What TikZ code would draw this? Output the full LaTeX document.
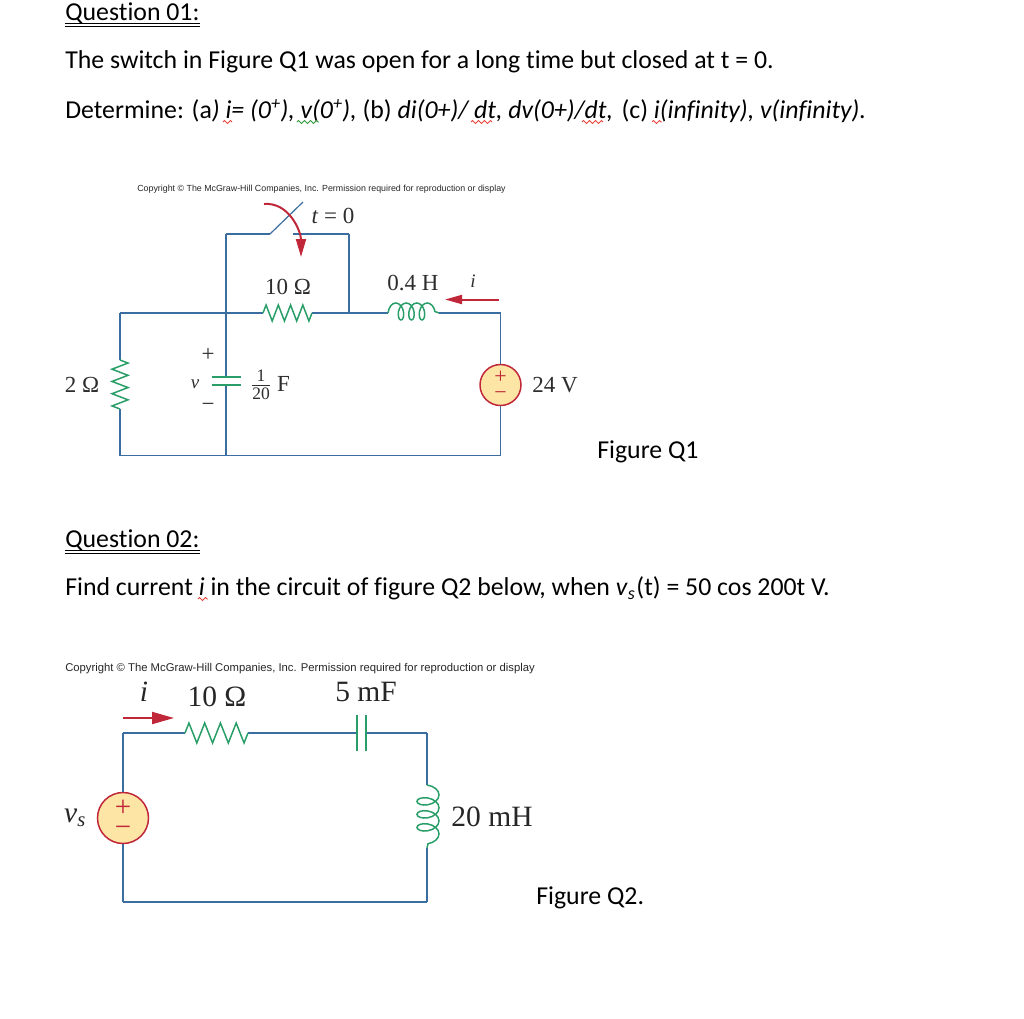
\documentclass[tikz,border=0pt]{standalone}
\usepackage{fontspec}
\setmainfont{Liberation Serif}
\newfontfamily\docfont[Ligatures=NoCommon]{Carlito}
\newfontfamily\copyfont{Liberation Sans}
\usetikzlibrary{arrows.meta,decorations.pathmorphing}
\definecolor{wireblue}{RGB}{58,110,160}
\definecolor{partgreen}{RGB}{42,158,104}
\definecolor{arrowred}{RGB}{192,40,58}
\definecolor{srcfill}{RGB}{253,229,165}
\definecolor{labelgray}{RGB}{45,45,45}
\definecolor{spellred}{RGB}{232,70,60}
\definecolor{spellgreen}{RGB}{50,155,60}
\tikzset{>=Stealth}
\newcommand{\docsize}{\fontsize{25.8}{28}\selectfont}

\begin{document}
\begin{tikzpicture}[x=1pt,y=-1pt,semithick]
    \tikzstyle{doc}=[inner sep=0pt,anchor=base west,text=black,font=\docfont\docsize]
    \tikzstyle{rule}=[black,line width=0.9pt]
    \tikzstyle{wire}=[draw=wireblue,line width=1.6pt]
    \tikzstyle{part}=[draw=partgreen,line width=1.5pt]
    \tikzstyle{curr}=[draw=arrowred,line width=2pt]
    \tikzstyle{src}=[circle,draw=arrowred,fill=srcfill,line width=1.5pt,inner sep=0pt,text=arrowred,align=center]
    \tikzstyle{lab}=[inner sep=0pt,text=labelgray,font=\fontsize{23}{25}\selectfont]
    \tikzstyle{biglab}=[inner sep=0pt,text=black!85,font=\fontsize{29.5}{31}\selectfont]
    \tikzstyle{copy}=[inner sep=0pt,anchor=base west,text=black!85,font=\copyfont]
    \tikzstyle{spell}=[line width=0.9pt,decorate,decoration={zigzag,amplitude=1.5pt,segment length=6pt}]

    \useasboundingbox (0,0) rectangle (1024,1018);

    \node[doc] (qa)  at (65,20.8)   {Question 01:};
    \node[doc] (la1) at (65,68.6)   {The switch in Figure Q1 was open for a long time but closed at t = 0.};
    \node[doc] (la2) at (65,118.5)  {Determine: (a\textit{) i= (0\textsuperscript{+}), v(0\textsuperscript{+}),} (b) \textit{di(0+)/ dt, dv(0+)/dt,}\hspace{8.5pt}(c) \textit{i(infinity), v(infinity).}};
    \node[doc] (fa)  at (597,458) {Figure Q1};
    \node[doc] (qb)  at (65,547.8)  {Question 02:};
    \node[doc] (lb1) at (65,595.5)  {Find current \textit{i} in the circuit of figure Q2 below, when \textit{v}\raisebox{-4pt}{\fontsize{18}{18}\selectfont\textit{s}}\hspace{1.5pt}(t) = 50 cos 200t V.};
    \node[doc] (fb)  at (536,904) {Figure Q2.};

    \draw[rule] ([yshift=-2.5pt]qa.base west) -- ([yshift=-2.5pt]qa.base east);
    \draw[rule] ([yshift=-6pt]qa.base west) -- ([yshift=-6pt]qa.base east);
    \draw[rule] ([yshift=-3pt]qb.base west) -- ([yshift=-3pt]qb.base east);
    \draw[rule] ([yshift=-6pt]qb.base west) -- ([yshift=-6pt]qb.base east);

    \coordinate (s1a) at (223,122);
    \coordinate (s1b) at (232,122);
    \coordinate (s2a) at (297,122);
    \coordinate (s2b) at (319,122);
    \coordinate (s3a) at (471,122);
    \coordinate (s3b) at (492,122);
    \coordinate (s4a) at (582,122);
    \coordinate (s4b) at (603,122);
    \coordinate (s5a) at (652,122);
    \coordinate (s5b) at (662,122);
    \coordinate (s6a) at (198,599);
    \coordinate (s6b) at (208,599);
    \path
    (s1a) edge[spell,spellred] (s1b)
    (s2a) edge[spell,spellgreen] (s2b)
    (s3a) edge[spell,spellred] (s3b)
    (s4a) edge[spell,spellred] (s4b)
    (s5a) edge[spell,spellred] (s5b)
    (s6a) edge[spell,spellred] (s6b);

    \node[copy,font=\copyfont\fontsize{8.85}{10}\selectfont] (ca) at (137,191) {Copyright \textcopyright\ The McGraw-Hill Companies, Inc. Permission required for reproduction or display};

    \coordinate (TL) at (120,313);
    \coordinate (BL) at (120,455.5);
    \coordinate (TM) at (226,313);
    \coordinate (BM) at (226,455.5);
    \coordinate (TR) at (500.5,313);
    \coordinate (BR) at (500.5,455.5);
    \coordinate (NE) at (349,313);
    \coordinate (SL) at (226,234);
    \coordinate (SR) at (349,234);
    \coordinate (Sh) at (270,234);
    \coordinate (St) at (303,202);
    \coordinate (Sc) at (293,234);
    \coordinate (Ra) at (263,313);
    \coordinate (Rb) at (312,313);
    \coordinate (Rc) at (120,360);
    \coordinate (Rd) at (120,409);
    \coordinate (La) at (388,313);
    \coordinate (Lb) at (439,313);
    \coordinate (Cu) at (226,377);
    \coordinate (Cl) at (226,385);
    \coordinate (Cua) at (212,377);
    \coordinate (Cub) at (241,377);
    \coordinate (Cla) at (212,385);
    \coordinate (Clb) at (241,385);
    \coordinate (Aa) at (264,204);
    \coordinate (Ab) at (301,257);
    \coordinate (Ia) at (499,299.5);
    \coordinate (Ib) at (445,299.5);

    \node[src,minimum size=41pt,font=\fontsize{22}{16}\selectfont] (E) at (500.5,385) {+\\−};

    \path
    (Rc) edge[wire] (TL)
    (TL) edge[wire] (Ra)
    (Rb) edge[wire] (La)
    (Lb) edge[wire] (TR)
    (TR) edge[wire] (E)
    (E)  edge[wire] (BR)
    (BR) edge[wire] (BL)
    (BL) edge[wire] (Rd)
    (TM) edge[wire] (Cu)
    (Cl) edge[wire] (BM)
    (TM) edge[wire] (SL)
    (SL) edge[wire] (Sh)
    (Sh) edge[wire,line width=1.2pt] (St)
    (Sc) edge[wire] (SR)
    (SR) edge[wire] (NE)
    (Ra) edge[part,decorate,decoration={zigzag,amplitude=8pt,segment length=12.25pt}] (Rb)
    (Rc) edge[part,decorate,decoration={zigzag,amplitude=8pt,segment length=12.25pt}] (Rd)
    (La) edge[part,decorate,decoration={coil,amplitude=8.5pt,segment length=10.5pt,aspect=0.6,raise=1.5pt}] (Lb)
    (Cua) edge[part] (Cub)
    (Cla) edge[part] (Clb)
    (Aa) edge[curr,out=5,in=90,-{Stealth[length=18pt,width=10pt,inset=0pt]}] (Ab)
    (Ia) edge[curr,-{Stealth[length=17pt,width=9pt,inset=0pt]}] (Ib);

    \node[lab] (lt)  at (333,216) {\textit{t} = 0};
    \node[lab] (lra) at (288,287) {10 Ω};
    \node[lab] (lla) at (413,283.5) {0.4 H};
    \node[lab,font=\fontsize{19}{20}\selectfont] (li) at (473,281) {\textit{i}};
    \node[lab] (lrb) at (82,385) {2 Ω};
    \node[lab] (lv)  at (555,385) {24 V};
    \node[lab,font=\fontsize{19}{20}\selectfont] (lvc) at (195,384) {\textit{v}};
    \node[lab] (lp) at (208,355) {+};
    \node[lab] (lm) at (208,407) {−};
    \node[lab] (lc)  at (261,385) {$\frac{\hbox{\fontsize{17.5}{18}\selectfont 1}}{\hbox{\fontsize{17.5}{18}\selectfont 20}}$};
    \node[lab] (lf)  at (283.5,384) {F};

    \node[copy,font=\copyfont\fontsize{11.28}{12}\selectfont] (cb) at (65,671.5) {Copyright \textcopyright\ The McGraw-Hill Companies, Inc. Permission required for reproduction or display};

    \coordinate (TA) at (123,733);
    \coordinate (BA) at (123,902);
    \coordinate (TB) at (427,733);
    \coordinate (BB) at (427,902);
    \coordinate (Pa) at (185,733);
    \coordinate (Pb) at (248,733);
    \coordinate (Qa) at (357,733);
    \coordinate (Qb) at (366,733);
    \coordinate (Qc) at (357,715);
    \coordinate (Qd) at (357,751);
    \coordinate (Qe) at (366,715);
    \coordinate (Qf) at (366,751);
    \coordinate (Ka) at (427,785);
    \coordinate (Kb) at (427,848);
    \coordinate (Ja) at (123,718);
    \coordinate (Jb) at (174,718);

    \node[src,minimum size=51pt,font=\fontsize{29}{20}\selectfont] (V) at (123,818) {+\\−};

    \path
    (V)  edge[wire] (TA)
    (TA) edge[wire] (Pa)
    (Pb) edge[wire] (Qa)
    (Qb) edge[wire] (TB)
    (TB) edge[wire] (Ka)
    (Kb) edge[wire] (BB)
    (BB) edge[wire] (BA)
    (BA) edge[wire] (V)
    (Pa) edge[part,decorate,decoration={zigzag,amplitude=10pt,segment length=15.75pt}] (Pb)
    (Qc) edge[part] (Qd)
    (Qe) edge[part] (Qf)
    (Ka) edge[part,decorate,decoration={coil,amplitude=11pt,segment length=13pt,aspect=0.6,raise=1pt}] (Kb)
    (Ja) edge[curr,-{Stealth[length=22pt,width=12pt,inset=0pt]}] (Jb);

    \node[biglab] (li2) at (144,692) {\textit{i}};
    \node[biglab] (lr3) at (217,697) {10 Ω};
    \node[biglab] (lc3) at (366,692) {5 mF};
    \node[biglab] (ll3) at (492,817) {20 mH};
    \node[biglab] (lvs) at (75,818) {\textit{v\textsubscript{s}}};
\end{tikzpicture}
\end{document}
